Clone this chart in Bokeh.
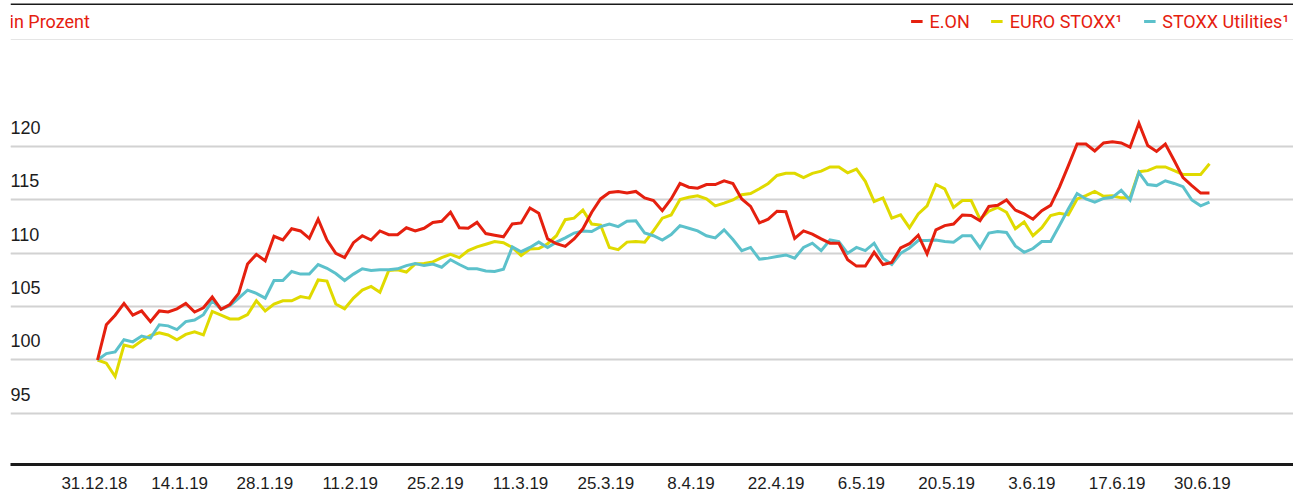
from bokeh.plotting import figure
from bokeh.models import Range1d, FixedTicker, Grid, Span, Legend, LegendItem
from bokeh.core.properties import value
from bokeh.embed import file_html
from bokeh.resources import INLINE

# ---------------- data ----------------
x_labels = ["31.12.18", "14.1.19", "28.1.19", "11.2.19", "25.2.19", "11.3.19", "25.3.19",
            "8.4.19", "22.4.19", "6.5.19", "20.5.19", "3.6.19", "17.6.19", "30.6.19"]
y_ticks = [95, 100, 105, 110, 115, 120]
y_labels = ["95", "100", "105", "110", "115", "120"]

eon = [100, 103.3, 104.2, 105.3, 104.2, 104.6, 103.6, 104.6, 104.5, 104.8,
       105.3, 104.5, 104.9, 105.9, 104.75, 105.2, 106.25, 109.0, 109.9, 109.3,
       111.6, 111.25, 112.3, 112.1, 111.4, 113.2, 111.25, 110.0, 109.6, 111.0,
       111.65, 111.25, 112.1, 111.75, 111.75, 112.4, 112.1, 112.35, 112.9, 113.0,
       113.85, 112.4, 112.35, 112.9, 111.85, 111.7, 111.55, 112.75, 112.85, 114.25,
       113.75, 111.35, 110.9, 110.65, 111.35, 112.3, 113.85, 115.1, 115.7, 115.8,
       115.65, 115.8, 115.2, 114.95, 114.0, 115.1, 116.55, 116.2, 116.1, 116.45,
       116.45, 116.8, 116.55, 115.1, 114.4, 112.85, 113.2, 113.95, 113.9, 111.4,
       112.1, 111.8, 111.35, 110.95, 110.95, 109.4, 108.8, 108.8, 110.1, 108.95,
       109.15, 110.5, 110.9, 111.7, 109.95, 112.2, 112.6, 112.75, 113.6, 113.55,
       113.05, 114.4, 114.5, 115.0, 114.05, 113.7, 113.2, 114.0, 114.5, 116.2,
       118.2, 120.25, 120.25, 119.6, 120.35, 120.45, 120.35, 119.95, 122.2, 120.1,
       119.55, 120.25, 118.7, 117.1, 116.35, 115.65, 115.65]

euro_stoxx = [100, 99.7, 98.45, 101.4, 101.2, 101.8, 102.3, 102.55, 102.35, 101.9,
              102.4, 102.65, 102.35, 104.55, 104.2, 103.85, 103.85, 104.25, 105.55, 104.6,
              105.25, 105.55, 105.55, 105.95, 105.8, 107.5, 107.4, 105.25, 104.8, 105.8,
              106.55, 106.9, 106.35, 108.4, 108.45, 108.25, 109.0, 109.05, 109.2, 109.6,
              109.9, 109.6, 110.25, 110.6, 110.85, 111.1, 111.0, 110.55, 109.8, 110.4,
              110.45, 110.9, 111.65, 113.15, 113.3, 114.05, 112.75, 112.65, 110.55, 110.35,
              111.05, 111.1, 111.05, 112.1, 113.3, 113.6, 115.05, 115.25, 115.4, 115.1,
              114.45, 114.7, 115.0, 115.5, 115.6, 116.05, 116.55, 117.3, 117.5, 117.5,
              117.1, 117.5, 117.7, 118.1, 118.1, 117.55, 117.9, 116.75, 114.85, 115.2,
              113.3, 113.6, 112.4, 113.7, 114.45, 116.45, 116.05, 114.3, 114.95, 114.95,
              113.2, 113.95, 114.3, 113.85, 112.3, 112.95, 111.65, 112.4, 113.55, 113.75,
              113.6, 115.1, 115.4, 115.8, 115.35, 115.4, 115.2, 115.2, 117.65, 117.75,
              118.1, 118.1, 117.75, 117.4, 117.4, 117.4, 118.4]

stoxx_util = [100, 100.6, 100.75, 101.9, 101.7, 102.25, 102.05, 103.3, 103.2, 102.85,
              103.6, 103.75, 104.25, 105.55, 104.75, 105.1, 105.8, 106.55, 106.25, 105.8,
              107.45, 107.45, 108.3, 108.05, 108.05, 108.95, 108.6, 108.1, 107.45, 108.05,
              108.55, 108.4, 108.45, 108.45, 108.55, 108.85, 109.05, 108.85, 109.0, 108.7,
              109.4, 108.95, 108.55, 108.55, 108.35, 108.3, 108.5, 110.6, 110.15, 110.55,
              111.05, 110.55, 111.05, 111.45, 111.9, 112.1, 112.05, 112.5, 112.75, 112.5,
              113.0, 113.05, 111.9, 111.65, 111.25, 111.75, 112.6, 112.35, 112.1, 111.65,
              111.45, 112.2, 111.3, 110.25, 110.55, 109.45, 109.55, 109.7, 109.85, 109.55,
              110.55, 110.95, 110.25, 111.25, 111.1, 110.0, 110.55, 110.25, 110.95, 109.55,
              108.95, 110.0, 110.5, 111.2, 111.2, 111.25, 111.1, 111.05, 111.65, 111.65,
              110.5, 111.9, 112.05, 111.95, 110.7, 110.1, 110.45, 111.1, 111.1, 112.6,
              114.15, 115.6, 115.1, 114.8, 115.15, 115.25, 115.9, 115.0, 117.6, 116.45,
              116.35, 116.8, 116.55, 116.25, 115.0, 114.45, 114.8]

series_names = ["E.ON", "EURO STOXX\u00b9", "STOXX Utilities\u00b9"]

# ---------------- styling ----------------
RED = "#e5200f"
YELLOW = "#e0da00"
TEAL = "#5cc1cb"
TXT = "#1c1c1c"

n = len(eon)
xs = list(range(n))

x_start, x_end = -9.86, 135.52
y_start, y_end = 90.203, 133.42

p = figure(width=1293, height=493, output_backend="svg", toolbar_location=None,
           x_range=Range1d(x_start, x_end), y_range=Range1d(y_start, y_end),
           y_axis_location=None, min_border_left=10, min_border_right=0,
           min_border_top=3, min_border_bottom=29)
p.outline_line_color = None
p.background_fill_color = "white"
p.border_fill_color = "white"
p.xgrid.visible = False

grid = Grid(dimension=1, ticker=FixedTicker(ticks=y_ticks),
            grid_line_color="#d2d2d2", grid_line_width=2)
p.add_layout(grid)

tick_step = 9.65625
x_ticks = [k * tick_step - 0.34375 for k in range(len(x_labels))]
ax = p.xaxis[0]
ax.ticker = FixedTicker(ticks=x_ticks)
ax.major_label_overrides = {t: lab for t, lab in zip(x_ticks, x_labels)}
ax.axis_line_color = "#1a1a1a"
ax.axis_line_width = 3
ax.major_tick_line_color = None
ax.minor_tick_line_color = None
ax.major_tick_out = 0
ax.major_tick_in = 0
ax.major_label_standoff = 12
ax.major_label_text_font = "Liberation Sans"
ax.major_label_text_font_size = "17px"
ax.major_label_text_color = TXT

top_line = Span(location=y_end, dimension="width", line_color="#1a1a1a", line_width=3)
p.add_layout(top_line)

# y tick labels above gridlines
p.text(x=[x_start] * len(y_ticks), y=y_ticks, text=y_labels,
       text_font=value("Liberation Sans"), text_font_size="18px", text_color=TXT,
       text_align="left", text_baseline="alphabetic", y_offset=-19)

# unit label
p.text(x=[x_start], y=[y_end], text=["in Prozent"],
       text_font=value("Roboto"), text_font_size="18px", text_color=RED,
       text_align="left", text_baseline="top", y_offset=7, x_offset=-1)

r_y = p.line(xs, euro_stoxx, line_color=YELLOW, line_width=3, line_join="miter")
r_t = p.line(xs, stoxx_util, line_color=TEAL, line_width=3, line_join="miter")
r_e = p.line(xs, eon, line_color=RED, line_width=3, line_join="miter")

legend = Legend(items=[LegendItem(label=series_names[0], renderers=[r_e]),
                       LegendItem(label=series_names[1], renderers=[r_y]),
                       LegendItem(label=series_names[2], renderers=[r_t])],
                orientation="horizontal", location="top_right",
                margin=4, padding=1, spacing=21, label_standoff=7,
                glyph_width=12, glyph_height=28, label_height=28,
                label_text_font="Roboto", label_text_font_size="18px",
                label_text_color=RED, border_line_color=None,
                background_fill_alpha=0)
p.add_layout(legend)

open("out.html", "w").write(file_html(p, INLINE))
